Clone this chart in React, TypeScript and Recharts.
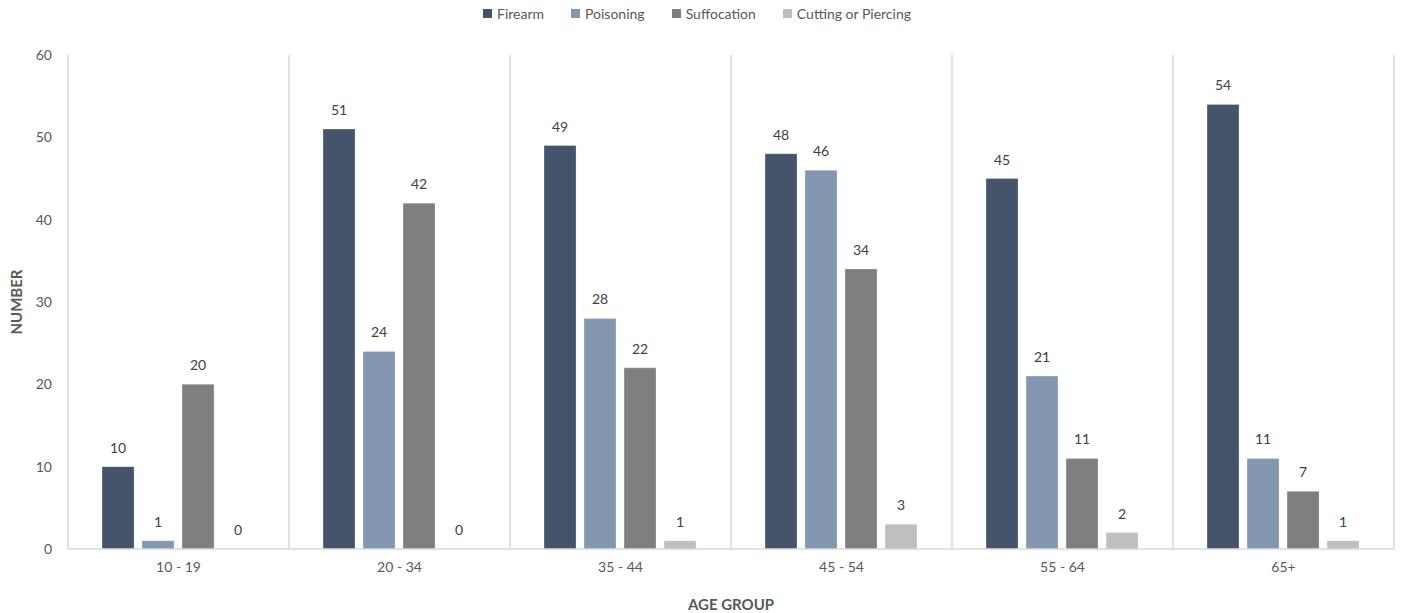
import React from "react";
import { BarChart, Bar, XAxis, YAxis, CartesianGrid, Legend, LabelList } from "recharts";

const ageGroups = ["10 - 19", "20 - 34", "35 - 44", "45 - 54", "55 - 64", "65+"];
const firearm = [10, 51, 49, 48, 45, 54];
const poisoning = [1, 24, 28, 46, 21, 11];
const suffocation = [20, 42, 22, 34, 11, 7];
const cutting = [0, 0, 1, 3, 2, 1];
const yTicks = [0, 10, 20, 30, 40, 50, 60];

const data = ageGroups.map((g, i) => ({
  group: g,
  Firearm: firearm[i],
  Poisoning: poisoning[i],
  Suffocation: suffocation[i],
  "Cutting or Piercing": cutting[i],
}));

const FONT = "Lato, 'Open Sans', sans-serif";
const series = [
  { key: "Firearm", color: "#44546A" },
  { key: "Poisoning", color: "#8497B0" },
  { key: "Suffocation", color: "#7F7F7F" },
  { key: "Cutting or Piercing", color: "#BFBFBF" },
];

const LegendContent = () => (
  <div
    style={{
      display: "flex",
      justifyContent: "center",
      alignItems: "center",
      gap: 27,
      fontFamily: FONT,
      fontSize: 14,
      color: "#595959",
    }}
  >
    {series.map((s) => (
      <div key={s.key} style={{ display: "flex", alignItems: "center" }}>
        <span style={{ width: 9, height: 9, background: s.color, display: "inline-block", marginRight: 5 }} />
        <span>{s.key}</span>
      </div>
    ))}
  </div>
);

const gridGenerator = ({ offset }: any) => {
  const out: number[] = [];
  for (let i = 0; i <= ageGroups.length; i++) {
    out.push(offset.left + (offset.width * i) / ageGroups.length);
  }
  return out;
};

export default function App() {
  return (
    <div style={{ position: "absolute", left: 0, top: 0, fontFamily: FONT }}>
      <BarChart
        width={1403}
        height={613}
        data={data}
        margin={{ top: 25, right: 9, bottom: 0, left: 0 }}
        barCategoryGap="15.4%"
        barGap={8}
      >
        <CartesianGrid
          horizontal={false}
          stroke="#D9D9D9"
          strokeWidth={1.5}
          verticalCoordinatesGenerator={gridGenerator}
        />
        <XAxis
          dataKey="group"
          height={64}
          tickLine={false}
          tickSize={0}
          tickMargin={13}
          axisLine={{ stroke: "#D9D9D9", strokeWidth: 1.5 }}
          tick={{ fill: "#595959", fontSize: 14, fontFamily: FONT }}
          label={{
            value: "AGE GROUP",
            position: "insideBottom",
            offset: 3,
            style: { fill: "#595959", fontSize: 15, fontWeight: 700, fontFamily: FONT },
          }}
        />
        <YAxis
          width={68}
          domain={[0, 60]}
          ticks={yTicks}
          axisLine={false}
          tickLine={false}
          tickSize={0}
          tickMargin={16}
          tick={{ fill: "#595959", fontSize: 14, fontFamily: FONT }}
          label={{
            value: "NUMBER",
            angle: -90,
            position: "insideLeft",
            offset: 17,
            style: { fill: "#595959", fontSize: 15, fontWeight: 700, fontFamily: FONT, textAnchor: "middle" },
          }}
        />
        <Legend
          verticalAlign="top"
          align="center"
          height={30}
          wrapperStyle={{ top: 5 }}
          content={<LegendContent />}
        />
        {series.map((s) => (
          <Bar
            key={s.key}
            dataKey={s.key}
            fill={s.color}
            stroke="#ffffff"
            strokeOpacity={0.25}
            minPointSize={0.01}
            isAnimationActive={false}
          >
            <LabelList
              dataKey={s.key}
              position="top"
              offset={14}
              formatter={(v: any) => String(v)}
              style={{ fill: "#404040", fontSize: 14, fontFamily: FONT }}
            />
          </Bar>
        ))}
      </BarChart>
    </div>
  );
}
